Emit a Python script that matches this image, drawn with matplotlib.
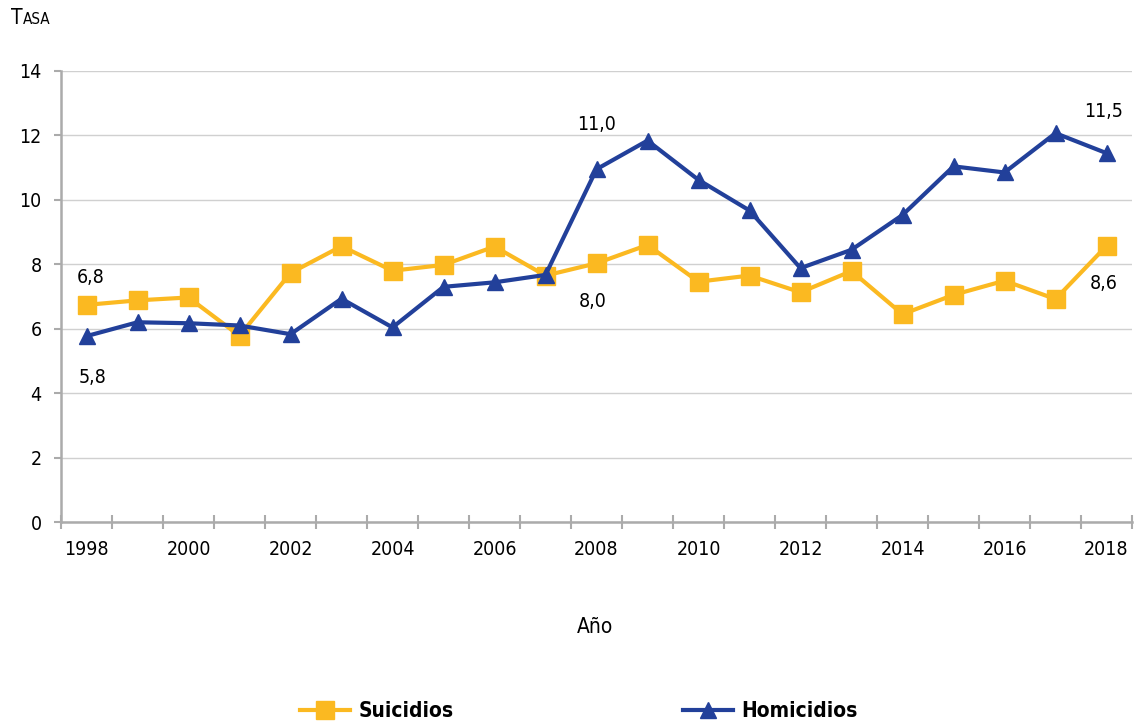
import matplotlib
matplotlib.use("Agg")
import matplotlib.pyplot as plt
from matplotlib.lines import Line2D

plt.rcParams["font.family"] = ["DejaVu Sans"]
plt.rcParams["font.stretch"] = "condensed"

years = list(range(1998, 2019))
suicidios = [6.74, 6.88, 6.97, 5.78, 7.73, 8.56, 7.80, 7.98, 8.55, 7.65, 8.03,
             8.60, 7.46, 7.65, 7.13, 7.79, 6.45, 7.05, 7.49, 6.92, 8.57]
homicidios = [5.77, 6.20, 6.17, 6.10, 5.83, 6.93, 6.04, 7.30, 7.44, 7.67, 10.95,
              11.84, 10.62, 9.67, 7.88, 8.45, 9.53, 11.04, 10.85, 12.07, 11.45]

# data labels: (index, series, text, offset in px)
labels = [
    (0, "s", "6,8", (4, 27)),
    (0, "h", "5,8", (6, -41)),
    (10, "h", "11,0", (0, 45)),
    (10, "s", "8,0", (-4, -38)),
    (20, "h", "11,5", (-3, 42)),
    (20, "s", "8,6", (-3, -38)),
]

YELLOW = "#FBB921"
BLUE = "#22409A"
GRID = "#d0d0d0"
SPINE = "#ababab"
FS = 14

fig = plt.figure(figsize=(11.35, 7.27), dpi=100)
ax = fig.add_axes([61 / 1135, 1 - 522 / 727, 1071 / 1135, 451 / 727])

x = list(range(len(years)))
ax.plot(x, suicidios, color=YELLOW, lw=3, marker="s", ms=13, mec=YELLOW, zorder=3)
ax.plot(x, homicidios, color=BLUE, lw=3, marker="^", ms=12, mec=BLUE, zorder=4)

ax.set_xlim(-0.5, len(years) - 0.5)
ax.set_ylim(0, 14)
ax.set_yticks(range(0, 15, 2))
ax.yaxis.grid(True, color=GRID, lw=1.0)
ax.set_axisbelow(True)

ax.set_xticks(x[::2])
ax.set_xticklabels([str(y) for y in years[::2]])
ax.set_xticks([i - 0.5 for i in range(len(years) + 1)], minor=True)
ax.tick_params(axis="x", which="major", length=0, pad=13, labelsize=FS)
ax.tick_params(axis="x", which="minor", direction="inout", length=10, width=1.5, color=SPINE)
ax.tick_params(axis="y", length=5, width=1.5, color=SPINE, pad=9, labelsize=FS)

for side in ["top", "right"]:
    ax.spines[side].set_visible(False)
for side in ["left", "bottom"]:
    ax.spines[side].set_color(SPINE)
    ax.spines[side].set_linewidth(1.8)

for i, s, txt, (dx, dy) in labels:
    val = suicidios[i] if s == "s" else homicidios[i]
    ax.annotate(txt, (i, val), xytext=(dx * 0.72, dy * 0.72), textcoords="offset points",
                ha="center", va="center", fontsize=FS)

# axis titles
fig.text(11 / 1135, 1 - 18 / 727, "T", fontsize=15, va="center", ha="left")
fig.text(23 / 1135, 1 - 19.5 / 727, "ASA", fontsize=11, va="center", ha="left")
fig.text(595 / 1135, 1 - 627 / 727, "Año", fontsize=FS + 1, ha="center", va="center")

handles = [
    Line2D([], [], color=YELLOW, lw=3, marker="s", ms=13, mec=YELLOW),
    Line2D([], [], color=BLUE, lw=3, marker="^", ms=12, mec=BLUE),
]
fig.legend(handles, ["Suicidios", "Homicidios"], loc="center",
           bbox_to_anchor=(579 / 1135, 1 - 711 / 727), ncol=2, frameon=False,
           handlelength=2.4, handletextpad=0.4, columnspacing=11,
           prop={"size": FS + 1, "weight": "bold"})

fig.savefig("out.png", dpi=100)
